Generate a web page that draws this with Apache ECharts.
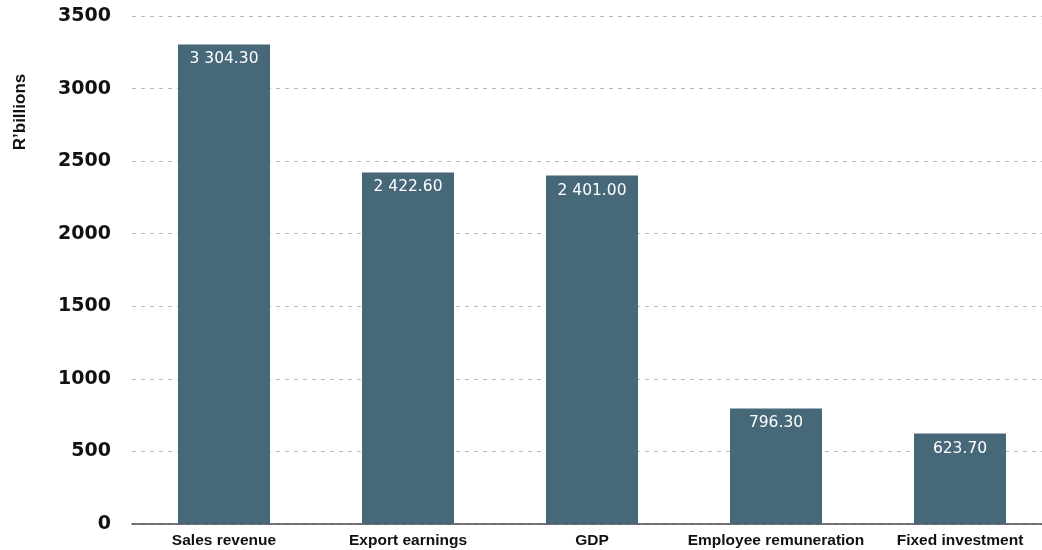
<!DOCTYPE html>
<html>
<head>
<meta charset="utf-8">
<script src="https://cdn.jsdelivr.net/npm/echarts@6/dist/echarts.min.js"></script>
<style>html,body{margin:0;padding:0;background:#fff}#c{width:1042px;height:550px}</style>
</head>
<body>
<div id="c"></div>
<script>
const categories = ['Sales revenue', 'Export earnings', 'GDP', 'Employee remuneration', 'Fixed investment'];
const values = [3304.30, 2422.60, 2401.00, 796.30, 623.70];
const yAxisTitle = "R\u2019billions";

function fmt(v) {
  const parts = v.toFixed(2).split('.');
  parts[0] = parts[0].replace(/\B(?=(\d{3})+(?!\d))/g, ' ');
  return parts.join('.');
}

const chart = echarts.init(document.getElementById('c'), null, {renderer: 'canvas'});
chart.setOption({
  animation: false,
  backgroundColor: '#ffffff',
  grid: {left: 132, top: 16, bottom: 26, width: 920, containLabel: false, outerBoundsMode: 'none'},
  xAxis: {
    type: 'category',
    data: categories,
    axisTick: {show: false},
    axisLine: {lineStyle: {color: '#4a4a4a', width: 1.5}},
    axisLabel: {
      color: '#111', fontFamily: 'Liberation Sans', fontWeight: 'bold', fontSize: 15.5,
      margin: 9, interval: 0
    }
  },
  yAxis: {
    type: 'value',
    min: 0, max: 3500, interval: 500,
    axisLine: {show: false},
    axisTick: {show: false},
    axisLabel: {
      color: '#111', fontFamily: 'DejaVu Sans', fontWeight: 'bold', fontSize: 19,
      margin: 21,
      formatter: v => String(v)
    },
    splitLine: {lineStyle: {color: '#bbbbbb', width: 1, type: [4, 5]}}
  },
  graphic: [{
    type: 'text',
    x: 20, y: 112,
    rotation: Math.PI / 2,
    style: {
      text: yAxisTitle,
      fill: '#111',
      font: 'bold 17px "Liberation Sans"',
      align: 'center',
      verticalAlign: 'middle'
    }
  }],
  series: [{
    type: 'bar',
    data: values,
    barWidth: '50%',
    itemStyle: {color: '#466879'},
    label: {
      show: true,
      position: 'insideTop',
      distance: 7,
      color: '#ffffff',
      fontFamily: 'DejaVu Sans',
      fontSize: 15.5,
      formatter: p => fmt(p.value)
    }
  }]
});
</script>
</body>
</html>
